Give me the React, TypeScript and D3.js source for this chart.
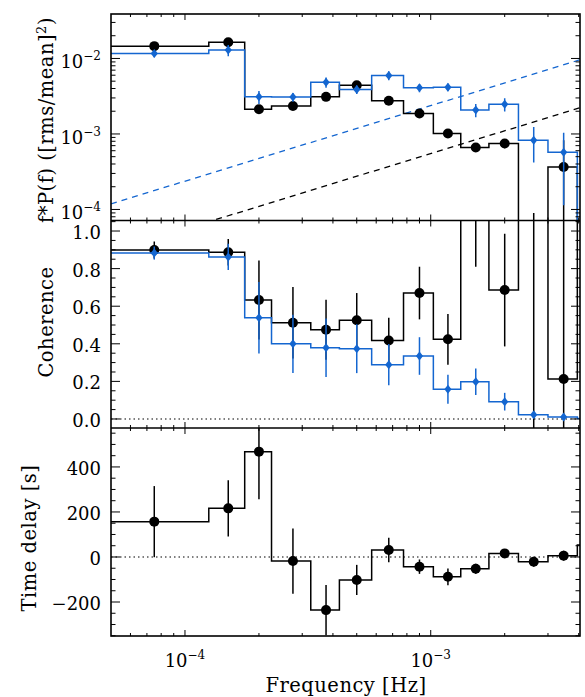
import React from "react";
import * as d3 from "d3";

// ---- data (14 frequency bins; last one lies beyond the plotted range) ----
const binEdges = [2.5e-5, 1.25e-4, 1.75e-4, 2.25e-4, 3.25e-4, 4.25e-4, 5.75e-4, 7.75e-4, 1.025e-3, 1.325e-3, 1.725e-3, 2.275e-3, 3.0e-3, 3.95e-3, 5.0e-3];
const binFreq = [7.5e-5, 1.5e-4, 2.0e-4, 2.75e-4, 3.75e-4, 5.0e-4, 6.75e-4, 9.0e-4, 1.175e-3, 1.525e-3, 2.0e-3, 2.625e-3, 3.475e-3, 4.5e-3];

const psdBlack = [1.455e-2, 1.64e-2, 2.13e-3, 2.34e-3, 3.1e-3, 4.42e-3, 2.75e-3, 1.87e-3, 1.015e-3, 6.62e-4, 7.48e-4, -3e-4, 3.66e-4, -5e-4];
const psdBlackErr = [8e-4, 1e-3, 1.5e-4, 1.6e-4, 2e-4, 2.5e-4, 2e-4, 1.5e-4, 1e-4, 8e-5, 1e-4, 3.9e-4, 4.6e-4, 5e-4];
const psdBlue = [1.165e-2, 1.29e-2, 3.1e-3, 3.08e-3, 4.85e-3, 3.88e-3, 5.96e-3, 4.08e-3, 4.17e-3, 2.08e-3, 2.48e-3, 8.28e-4, 5.74e-4, -5e-4];
const psdBlueErr = [1.3e-3, 2.2e-3, 6e-4, 4e-4, 7.5e-4, 5e-4, 8e-4, 5e-4, 5e-4, 4.2e-4, 5e-4, 4.1e-4, 4.6e-4, 5e-4];
const noiseBlue = 2.37; // f*P = noise * f
const noiseBlack = 0.55;

const cohBlack = [0.899, 0.887, 0.633, 0.512, 0.475, 0.525, 0.418, 0.67, 0.424, 1.3, 0.686, 1.4, 0.213, 1.25];
const cohBlackErr = [0.045, 0.07, 0.21, 0.19, 0.16, 0.145, 0.12, 0.14, 0.135, 0.49, 0.3, 1.6, 1.3, 0.8];
const cohBlue = [0.883, 0.862, 0.539, 0.4, 0.379, 0.374, 0.289, 0.335, 0.158, 0.198, 0.092, 0.023, 0.011, 0.002];
const cohBlueErr = [0.035, 0.07, 0.19, 0.155, 0.155, 0.13, 0.11, 0.1, 0.077, 0.07, 0.047, 0.015, 0.012, 0.01];

const delay = [157, 216, 468, -18, -236, -102, 31, -43, -88, -52, 16, -21, 6, 53];
const delayErr = [158, 125, 212, 145, 112, 67, 54, 32, 37, 22, 12, 22, 22, 25];

const psdTicks = [1e-4, 1e-3, 1e-2];
const psdTickExp = ["−4", "−3", "−2"];
const cohTicks = [0, 0.2, 0.4, 0.6, 0.8, 1.0];
const delayTicks = [-200, 0, 200, 400];
const freqTicks = [1e-4, 1e-3];
const freqTickExp = ["−4", "−3"];

const BLUE = "#1466d0";
const FONT = "'DejaVu Serif', serif";

const L = 111, R = 580;
const P0 = { top: 14, bottom: 220.5 };
const P1 = { top: 220.5, bottom: 428 };
const P2 = { top: 428, bottom: 636 };

export default function App() {
  const x = d3.scaleLog().domain([5e-5, 4.05e-3]).range([L, R]);
  const yP = d3.scaleLog().domain([7.14e-5, 3.88e-2]).range([P0.bottom, P0.top]);
  const yC = d3.scaleLinear().domain([-0.048, 1.056]).range([P1.bottom, P1.top]);
  const yD = d3.scaleLinear().domain([-351, 573]).range([P2.bottom, P2.top]);
  const syP = (v: number) => (v > 0 ? yP(v) : P0.bottom + 20);

  const stepPath = (vals: number[], sy: (v: number) => number) => {
    const pts: [number, number][] = vals.map((v, i) => [x(binEdges[i]), sy(v)]);
    pts.push([x(binEdges[vals.length]), sy(vals[vals.length - 1])]);
    return d3.line().curve(d3.curveStepAfter)(pts) || "";
  };

  const errBars = (vals: number[], errs: number[], sy: (v: number) => number, color: string) =>
    vals.map((v, i) => (
      <line key={i} x1={x(binFreq[i])} x2={x(binFreq[i])} y1={sy(v + errs[i])} y2={sy(v - errs[i])}
        stroke={color} strokeWidth={1.5} />
    ));

  const circles = (vals: number[], sy: (v: number) => number) =>
    vals.map((v, i) => (v > 0 || sy !== syP ? <circle key={i} cx={x(binFreq[i])} cy={sy(v)} r={5} fill="#000" /> : null));

  const diamonds = (vals: number[], sy: (v: number) => number) =>
    vals.map((v, i) => {
      if (sy === syP && v <= 0) return null;
      const cx = x(binFreq[i]), cy = sy(v);
      return <path key={i} d={`M${cx},${cy - 4.5}L${cx + 3.6},${cy}L${cx},${cy + 4.5}L${cx - 3.6},${cy}Z`} fill={BLUE} />;
    });

  // minor ticks
  const xMinor: number[] = [];
  for (let e = -5; e <= -3; e++) for (let k = 2; k <= 9; k++) {
    const f = k * Math.pow(10, e);
    if (f > 5e-5 && f < 4.05e-3) xMinor.push(f);
  }
  const pMinor: number[] = [];
  for (let e = -5; e <= -2; e++) for (let k = 2; k <= 9; k++) {
    const f = k * Math.pow(10, e);
    if (f > 7.14e-5 && f < 3.88e-2) pMinor.push(f);
  }
  const cMinor = d3.range(-1, 22).map((k) => k * 0.05).filter((v) => v > -0.048 && v < 1.056 && Math.abs(v / 0.2 - Math.round(v / 0.2)) > 1e-6);
  const dMinor = d3.range(-7, 12).map((k) => k * 50).filter((v) => v >= -351 && v <= 573 && v % 200 !== 0);

  const xTicksFor = (p: { top: number; bottom: number }, key: string) => (
    <g key={key} stroke="#000" strokeWidth={1}>
      {freqTicks.map((f, i) => (
        <g key={"M" + i}>
          <line x1={x(f)} x2={x(f)} y1={p.bottom} y2={p.bottom - 6} />
          <line x1={x(f)} x2={x(f)} y1={p.top} y2={p.top + 6} />
        </g>
      ))}
      {xMinor.map((f, i) => (
        <g key={"m" + i}>
          <line x1={x(f)} x2={x(f)} y1={p.bottom} y2={p.bottom - 3} />
          <line x1={x(f)} x2={x(f)} y1={p.top} y2={p.top + 3} />
        </g>
      ))}
    </g>
  );

  const yTicks = (major: number[], minor: number[], sy: (v: number) => number, key: string) => (
    <g key={key} stroke="#000" strokeWidth={1}>
      {major.map((v, i) => (
        <g key={"M" + i}>
          <line x1={L} x2={L + 9} y1={sy(v)} y2={sy(v)} />
          <line x1={R} x2={R - 9} y1={sy(v)} y2={sy(v)} />
        </g>
      ))}
      {minor.map((v, i) => (
        <g key={"m" + i}>
          <line x1={L} x2={L + 4.5} y1={sy(v)} y2={sy(v)} />
          <line x1={R} x2={R - 4.5} y1={sy(v)} y2={sy(v)} />
        </g>
      ))}
    </g>
  );

  const clip = (id: string, p: { top: number; bottom: number }) => (
    <clipPath id={id}><rect x={L} y={p.top} width={R - L} height={p.bottom - p.top} /></clipPath>
  );

  const fx = [5e-5, 4.05e-3];

  return (
    <svg width={585} height={697} style={{ display: "block", position: "absolute", left: 0, top: 0 }} fontFamily={FONT}>
      <rect width={585} height={697} fill="#fff" />
      <defs>
        {clip("c0", P0)}
        {clip("c1", P1)}
        {clip("c2", P2)}
      </defs>

      {/* Panel 1: PSD */}
      <g clipPath="url(#c0)">
        <line x1={x(fx[0])} x2={x(fx[1])} y1={yP(noiseBlue * fx[0])} y2={yP(noiseBlue * fx[1])} stroke={BLUE} strokeWidth={1.3} strokeDasharray="6,5" />
        <line x1={x(fx[0])} x2={x(fx[1])} y1={yP(noiseBlack * fx[0])} y2={yP(noiseBlack * fx[1])} stroke="#000" strokeWidth={1.3} strokeDasharray="6,5" />
        <path d={stepPath(psdBlack, syP)} fill="none" stroke="#000" strokeWidth={1.5} />
        {errBars(psdBlack, psdBlackErr, syP, "#000")}
        {circles(psdBlack, syP)}
        <path d={stepPath(psdBlue, syP)} fill="none" stroke={BLUE} strokeWidth={1.5} />
        {errBars(psdBlue, psdBlueErr, syP, BLUE)}
        {diamonds(psdBlue, syP)}
      </g>

      {/* Panel 2: coherence */}
      <g clipPath="url(#c1)">
        <line x1={L} x2={R} y1={yC(0)} y2={yC(0)} stroke="#000" strokeWidth={1.2} strokeDasharray="1.5,3" />
        <path d={stepPath(cohBlack, yC)} fill="none" stroke="#000" strokeWidth={1.5} />
        {errBars(cohBlack, cohBlackErr, yC, "#000")}
        {circles(cohBlack, yC)}
        <path d={stepPath(cohBlue, yC)} fill="none" stroke={BLUE} strokeWidth={1.5} />
        {errBars(cohBlue, cohBlueErr, yC, BLUE)}
        {diamonds(cohBlue, yC)}
      </g>

      {/* Panel 3: time delay */}
      <g clipPath="url(#c2)">
        <line x1={L} x2={R} y1={yD(0)} y2={yD(0)} stroke="#000" strokeWidth={1.2} strokeDasharray="1.5,3" />
        <path d={stepPath(delay, yD)} fill="none" stroke="#000" strokeWidth={1.5} />
        {errBars(delay, delayErr, yD, "#000")}
        {circles(delay, yD)}
      </g>

      {/* ticks */}
      {xTicksFor(P0, "x0")}
      {xTicksFor(P1, "x1")}
      {xTicksFor(P2, "x2")}
      {yTicks(psdTicks, pMinor, yP, "y0")}
      {yTicks(cohTicks, cMinor, yC, "y1")}
      {yTicks(delayTicks, dMinor, yD, "y2")}

      {/* frames */}
      <g fill="none" stroke="#000" strokeWidth={1.6}>
        <rect x={L} y={P0.top} width={R - L} height={P2.bottom - P0.top} />
        <line x1={L} x2={R} y1={P0.bottom} y2={P0.bottom} />
        <line x1={L} x2={R} y1={P1.bottom} y2={P1.bottom} />
      </g>

      {/* y tick labels */}
      <g fontSize={18} textAnchor="end" fill="#000">
        {psdTicks.map((v, i) => (
          <text key={"p" + i} x={101} y={yP(v) + 10}>
            10<tspan dy={-8} fontSize={12}>{psdTickExp[i]}</tspan>
          </text>
        ))}
        {cohTicks.map((v, i) => (
          <text key={"c" + i} x={101} y={yC(v) + 8}>{d3.format(".1f")(v)}</text>
        ))}
        {delayTicks.map((v, i) => (
          <text key={"d" + i} x={101} y={yD(v) + 8}>{v < 0 ? "−" + Math.abs(v) : String(v)}</text>
        ))}
      </g>

      {/* x tick labels */}
      <g fontSize={18} textAnchor="middle" fill="#000">
        {freqTicks.map((f, i) => (
          <text key={i} x={x(f)} y={667}>
            10<tspan dy={-8} fontSize={12}>{freqTickExp[i]}</tspan>
          </text>
        ))}
      </g>

      {/* axis titles */}
      <g fontSize={19.5} fill="#000" textAnchor="middle" letterSpacing={0.5}>
        <text x={346} y={692}>Frequency [Hz]</text>
        <text transform="translate(53,120) rotate(-90)">
          f*P(f) ([rms/mean]<tspan dy={-7} fontSize={13}>2</tspan><tspan dy={7}>)</tspan>
        </text>
        <text transform="translate(53,322) rotate(-90)">Coherence</text>
        <text transform="translate(36,538) rotate(-90)">Time delay [s]</text>
      </g>
    </svg>
  );
}
